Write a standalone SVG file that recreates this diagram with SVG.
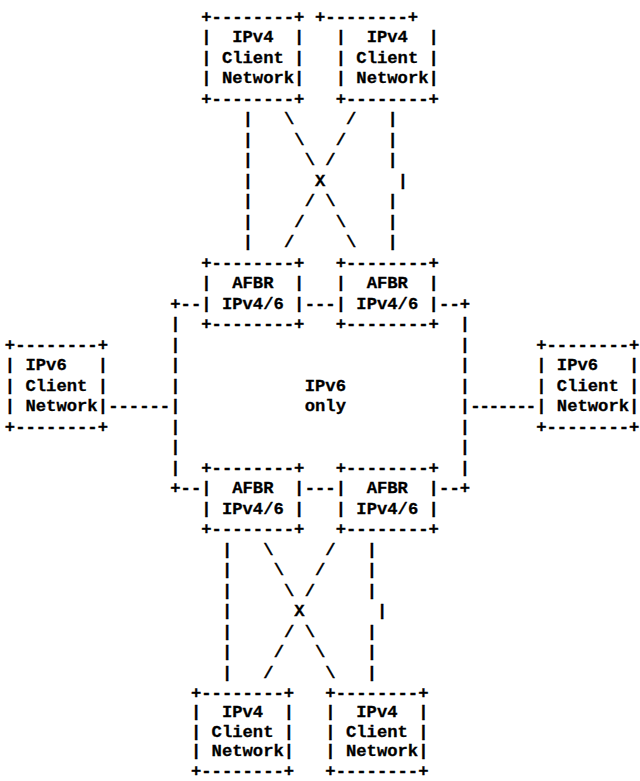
<svg xmlns="http://www.w3.org/2000/svg" width="640" height="781" viewBox="0 0 640 781" xml:space="preserve">
<style>
text { font-family: "Liberation Mono", "DejaVu Sans Mono", monospace; font-size: 17.2px; font-weight: bold; fill: #000; stroke: #000; stroke-width: 0.3; white-space: pre; }
</style>
<rect x="0" y="0" width="640" height="781" fill="#fff"/>
<g id="ipv4-top-left">
<text x="201.29" y="21.7">+--------+</text>
<text x="201.29" y="42.2">|  IPv4  |</text>
<text x="201.29" y="62.7">| Client |</text>
<text x="201.29" y="83.2">| Network|</text>
<text x="201.29" y="103.7">+--------+</text>
</g>
<g id="ipv4-top-right">
<text x="315.03" y="21.7">+--------+</text>
<text x="335.71" y="42.2">|  IPv4  |</text>
<text x="335.71" y="62.7">| Client |</text>
<text x="335.71" y="83.2">| Network|</text>
<text x="335.71" y="103.7">+--------+</text>
</g>
<g id="afbr-top-left">
<text x="201.29" y="267.7">+--------+</text>
<text x="201.29" y="288.2">|  AFBR  |</text>
<text x="201.29" y="308.7">| IPv4/6 |</text>
<text x="201.29" y="329.2">+--------+</text>
</g>
<g id="afbr-top-right">
<text x="335.71" y="267.7">+--------+</text>
<text x="335.71" y="288.2">|  AFBR  |</text>
<text x="335.71" y="308.7">| IPv4/6 |</text>
<text x="335.71" y="329.2">+--------+</text>
</g>
<g id="ipv6-only">
<text x="170.27" y="308.7">+--</text>
<text x="304.69" y="308.7">---</text>
<text x="439.11" y="308.7">--+</text>
<text x="170.27" y="329.2">|</text><text x="459.79" y="329.2">|</text>
<text x="170.27" y="349.7">|</text><text x="459.79" y="349.7">|</text>
<text x="170.27" y="370.2">|</text><text x="459.79" y="370.2">|</text>
<text x="170.27" y="390.7">|</text><text x="459.79" y="390.7">|</text>
<text x="170.27" y="411.2">|</text><text x="459.79" y="411.2">|</text>
<text x="170.27" y="431.7">|</text><text x="459.79" y="431.7">|</text>
<text x="170.27" y="452.2">|</text><text x="459.79" y="452.2">|</text>
<text x="170.27" y="472.7">|</text><text x="459.79" y="472.7">|</text>
<text x="170.27" y="493.2">+--</text>
<text x="304.69" y="493.2">---</text>
<text x="439.11" y="493.2">--+</text>
<text x="304.69" y="390.7">IPv6</text>
<text x="304.69" y="411.2">only</text>
</g>
<g id="ipv6-left">
<text x="4.83" y="349.7">+--------+</text>
<text x="4.83" y="370.2">| IPv6   |</text>
<text x="4.83" y="390.7">| Client |</text>
<text x="4.83" y="411.2">| Network|</text>
<text x="4.83" y="431.7">+--------+</text>
</g>
<g id="ipv6-right">
<text x="536.2" y="349.7">+--------+</text>
<text x="536.2" y="370.2">| IPv6   |</text>
<text x="536.2" y="390.7">| Client |</text>
<text x="536.2" y="411.2">| Network|</text>
<text x="536.2" y="431.7">+--------+</text>
</g>
<g id="afbr-bottom-left">
<text x="201.29" y="472.7">+--------+</text>
<text x="201.29" y="493.2">|  AFBR  |</text>
<text x="201.29" y="513.7">| IPv4/6 |</text>
<text x="201.29" y="534.2">+--------+</text>
</g>
<g id="afbr-bottom-right">
<text x="335.71" y="472.7">+--------+</text>
<text x="335.71" y="493.2">|  AFBR  |</text>
<text x="335.71" y="513.7">| IPv4/6 |</text>
<text x="335.71" y="534.2">+--------+</text>
</g>
<g id="ipv4-bottom-left">
<text x="190.95" y="697.7">+--------+</text>
<text x="190.95" y="717.2">|  IPv4  |</text>
<text x="190.95" y="736.7">| Client |</text>
<text x="190.95" y="756.2">| Network|</text>
<text x="190.95" y="775.5">+--------+</text>
</g>
<g id="ipv4-bottom-right">
<text x="325.37" y="697.7">+--------+</text>
<text x="325.37" y="717.2">|  IPv4  |</text>
<text x="325.37" y="736.7">| Client |</text>
<text x="325.37" y="756.2">| Network|</text>
<text x="325.37" y="775.5">+--------+</text>
</g>
<g id="connectors">
<text x="242.65" y="124.2">|</text><text x="284.01" y="124.2">\</text><text x="346.05" y="124.2">/</text><text x="387.41" y="124.2">|</text>
<text x="242.65" y="144.7">|</text><text x="294.35" y="144.7">\</text><text x="335.71" y="144.7">/</text><text x="387.41" y="144.7">|</text>
<text x="242.65" y="165.2">|</text><text x="304.69" y="165.2">\</text><text x="325.37" y="165.2">/</text><text x="387.41" y="165.2">|</text>
<text x="242.65" y="185.7">|</text><text x="315.03" y="185.7">X</text><text x="397.75" y="185.7">|</text>
<text x="242.65" y="206.2">|</text><text x="304.69" y="206.2">/</text><text x="325.37" y="206.2">\</text><text x="387.41" y="206.2">|</text>
<text x="242.65" y="226.7">|</text><text x="294.35" y="226.7">/</text><text x="335.71" y="226.7">\</text><text x="387.41" y="226.7">|</text>
<text x="242.65" y="247.2">|</text><text x="284.01" y="247.2">/</text><text x="346.05" y="247.2">\</text><text x="387.41" y="247.2">|</text>
<text x="108.23" y="411.2">------</text>
<text x="470.13" y="411.2" textLength="66" lengthAdjust="spacing">-------</text>
<text x="221.97" y="554.7">|</text><text x="263.33" y="554.7">\</text><text x="325.37" y="554.7">/</text><text x="366.73" y="554.7">|</text>
<text x="221.97" y="575.2">|</text><text x="273.67" y="575.2">\</text><text x="315.03" y="575.2">/</text><text x="366.73" y="575.2">|</text>
<text x="221.97" y="595.7">|</text><text x="284.01" y="595.7">\</text><text x="304.69" y="595.7">/</text><text x="366.73" y="595.7">|</text>
<text x="221.97" y="616.2">|</text><text x="294.35" y="616.2">X</text><text x="377.07" y="616.2">|</text>
<text x="221.97" y="636.7">|</text><text x="284.01" y="636.7">/</text><text x="304.69" y="636.7">\</text><text x="366.73" y="636.7">|</text>
<text x="221.97" y="657.2">|</text><text x="273.67" y="657.2">/</text><text x="315.03" y="657.2">\</text><text x="366.73" y="657.2">|</text>
<text x="221.97" y="677.7">|</text><text x="263.33" y="677.7">/</text><text x="325.37" y="677.7">\</text><text x="366.73" y="677.7">|</text>
</g>
</svg>
